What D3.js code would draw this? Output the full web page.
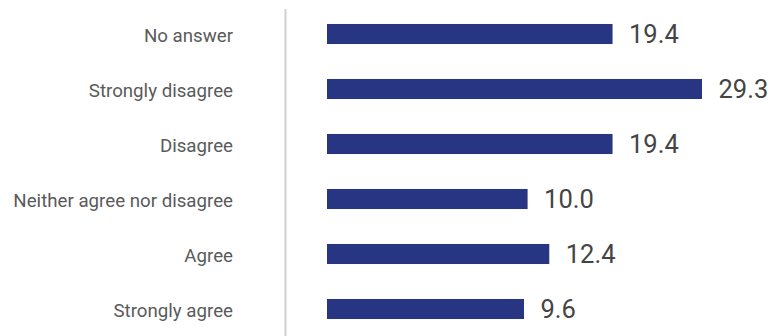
<!DOCTYPE html>
<html>
<head>
<meta charset="utf-8">
<script src="https://cdn.jsdelivr.net/npm/d3@7"></script>
<style>
  html, body { margin: 0; padding: 0; background: #fff; }
  svg { display: block; }
</style>
</head>
<body>
<svg id="chart" width="771" height="336"></svg>
<script>
// Survey response shares (%)
const categories = ["No answer", "Strongly disagree", "Disagree", "Neither agree nor disagree", "Agree", "Strongly agree"];
const values = [19.4, 29.3, 19.4, 10.0, 12.4, 9.6];

const svg = d3.select("#chart");
const font = "Roboto, 'Noto Sans', sans-serif";

// Bars start a little right of the divider; the value axis has an offset baseline
const baseline = -12.2;
const x = d3.scaleLinear().domain([baseline, d3.max(values)]).range([327, 702]);
const y = d3.scaleBand().domain(categories).range([6.5, 336.5]).paddingInner(0.636).paddingOuter(0.318);

// Divider between labels and bars
svg.append("line")
  .attr("x1", 285.5).attr("x2", 285.5)
  .attr("y1", 9).attr("y2", 336)
  .attr("stroke", "#d0d0d0").attr("stroke-width", 2);

// Category labels
const yAxis = d3.axisLeft(y).tickSize(0).tickPadding(0);
const gy = svg.append("g").attr("transform", "translate(233,2.5)").call(yAxis);
gy.select(".domain").remove();
gy.selectAll("text")
  .attr("font-family", font)
  .attr("font-size", 18.7)
  .attr("fill", "#5a5a5a");

// Bars
svg.append("g").selectAll("rect")
  .data(values)
  .join("rect")
  .attr("x", x(baseline))
  .attr("y", (d, i) => y(categories[i]))
  .attr("width", d => x(d) - x(baseline))
  .attr("height", y.bandwidth())
  .attr("fill", "#283583");

// Value labels
svg.append("g").selectAll("text")
  .data(values)
  .join("text")
  .attr("x", d => x(d) + 16.5)
  .attr("y", (d, i) => y(categories[i]) + y.bandwidth() / 2)
  .attr("dy", "0.35em")
  .attr("font-family", font)
  .attr("font-size", 25.5)
  .attr("fill", "#444")
  .text(d => d.toFixed(1));
</script>
</body>
</html>
